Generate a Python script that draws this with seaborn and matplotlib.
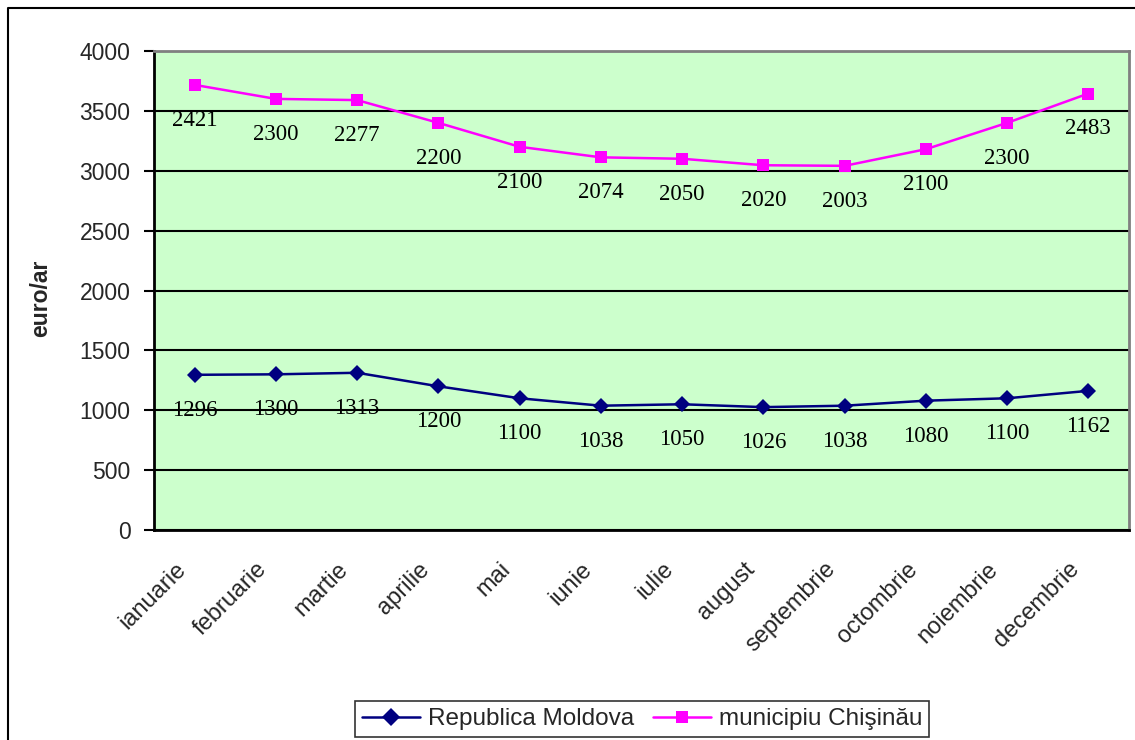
import matplotlib
matplotlib.use('Agg')
import matplotlib.pyplot as plt
import matplotlib.transforms as mtransforms
import seaborn as sns
import pandas as pd
import numpy as np
from matplotlib.lines import Line2D

# Date

luni = ['ianuarie', 'februarie', 'martie', 'aprilie', 'mai', 'iunie',
        'iulie', 'august', 'septembrie', 'octombrie', 'noiembrie', 'decembrie']
moldova = [1296, 1300, 1313, 1200, 1100, 1038, 1050, 1026, 1038, 1080, 1100, 1162]
chisinau = [2421, 2300, 2277, 2200, 2100, 2074, 2050, 2020, 2003, 2100, 2300, 2483]
serii = ['Republica Moldova', 'municipiu Chişinău']
culori = ['#000080', '#FF00FF']
y_ticks = [0, 500, 1000, 1500, 2000, 2500, 3000, 3500, 4000]

# grafic cu linii stivuite (ca in Excel)
chisinau_stivuit = np.array(moldova) + np.array(chisinau)

df = pd.DataFrame({
    'luna': luni * 2,
    'x': list(range(len(luni))) * 2,
    'valoare': list(moldova) + list(chisinau_stivuit),
    'eticheta': list(moldova) + list(chisinau),
    'serie': [serii[0]] * len(luni) + [serii[1]] * len(luni),
})

sns.set_style('white')
plt.rcParams['font.family'] = ['Liberation Sans', 'DejaVu Sans']

fig = plt.figure(figsize=(11.35, 7.4), dpi=100)
ax = fig.add_axes([154 / 1135, 1 - 530 / 740, (1129 - 154) / 1135, (530 - 51) / 740])
ax.set_facecolor('#CCFFCC')

sns.lineplot(data=df, x='x', y='valoare', hue='serie', style='serie',
             palette=culori, markers=['D', 's'], dashes=False, sort=False,
             markersize=8.5, markeredgewidth=0, linewidth=1.8, ax=ax, legend=False)

# etichete de date
for i, row in df.iterrows():
    ax.annotate(str(row['eticheta']), (row['x'], row['valoare']),
                xytext=(0, -25.5), textcoords='offset points',
                ha='center', va='center', fontsize=16.5,
                family=['Liberation Serif', 'DejaVu Serif'], color='black')

ax.set_xlim(-0.5, len(luni) - 0.5)
ax.set_ylim(0, 4000)
ax.set_yticks(y_ticks)
ax.set_yticklabels([str(v) for v in y_ticks], fontsize=16.5)
ax.yaxis.grid(True, color='black', linewidth=1.5)
ax.set_axisbelow(True)

ax.set_xticks(np.arange(len(luni)))
ax.set_xticklabels(luni, rotation=45, ha='right', va='center', rotation_mode='anchor', fontsize=17)
ax.set_xticks(np.arange(len(luni) + 1) - 0.5, minor=True)
ax.tick_params(axis='x', which='major', length=0, pad=0)
ax.tick_params(axis='x', which='minor', length=7, width=1.5, color='black', direction='out')
ax.tick_params(axis='y', length=7, width=1.5, color='black', direction='out', left=True, pad=10)
offset = mtransforms.ScaledTranslation(-12 / 100, -36 / 100, fig.dpi_scale_trans)
for lbl in ax.get_xticklabels():
    lbl.set_transform(lbl.get_transform() + offset)

ax.set_xlabel('')
ax.set_ylabel('euro/ar', fontsize=16.5, fontweight='bold')
ax.yaxis.set_label_coords((52 - 154) / 975, (530 - 298) / 479)

for s in ['left', 'bottom']:
    ax.spines[s].set_color('black')
    ax.spines[s].set_linewidth(2)
for s in ['top', 'right']:
    ax.spines[s].set_color('#808080')
    ax.spines[s].set_linewidth(2)

# legenda
handles = [Line2D([], [], color=culori[0], marker='D', markersize=9, markeredgewidth=0, linewidth=1.8),
           Line2D([], [], color=culori[1], marker='s', markersize=9, markeredgewidth=0, linewidth=1.8)]
leg = fig.legend(handles, serii, loc='center', bbox_to_anchor=(642 / 1135, 1 - 719 / 740), ncol=2,
                 fontsize=17.5, frameon=True, fancybox=False, edgecolor='black',
                 handlelength=2.4, handletextpad=0.3, columnspacing=0.8,
                 borderpad=0.3, borderaxespad=0)
leg.get_frame().set_linewidth(1.2)

# chenar exterior (stanga si sus)
fig.add_artist(Line2D([8 / 1135, 8 / 1135, 1], [0, 1 - 8 / 740, 1 - 8 / 740],
                      transform=fig.transFigure, color='black', linewidth=1.5))

fig.savefig('out.png', dpi=100)
